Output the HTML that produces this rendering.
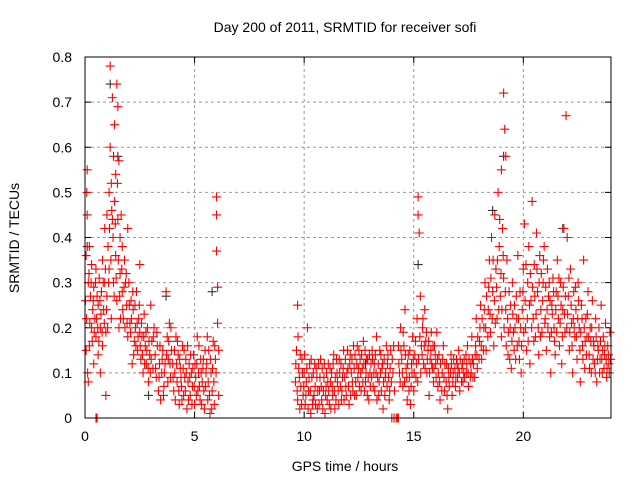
<!DOCTYPE html>
<html><head><meta charset="utf-8"><style>
body{margin:0;background:#fff}
svg text{font-family:"Liberation Sans","DejaVu Sans",sans-serif;font-size:14px;fill:#000}
</style></head><body>
<svg id="chart" width="640" height="480" xmlns="http://www.w3.org/2000/svg">
<text x="345" y="32" text-anchor="middle">Day 200 of 2011, SRMTID for receiver sofi</text>
<text x="345" y="471" text-anchor="middle">GPS time / hours</text>
<text transform="translate(19,238) rotate(-90)" text-anchor="middle">SRMTID / TECUs</text>
<g id="grid"></g>
<g id="ticks"></g>
<g id="marks"></g>
<rect x="85" y="57" width="526" height="361" fill="none" stroke="#000" stroke-width="1"/>
</svg>
<script>
const xTicks=[0,5,10,15,20];
const yTicks=[0,0.1,0.2,0.3,0.4,0.5,0.6,0.7,0.8];
const yTickLabels=["0","0.1","0.2","0.3","0.4","0.5","0.6","0.7","0.8"];
const seg0=[[0.05,0.15],[0.05,0.36],[0.08,0.5],[0.1,0.55],[0.1,0.45],[0.12,0.1],[0.15,0.08],[0.15,0.3],[0.2,0.38],[0.2,0.16],[0.25,0.27],[0.3,0.34],[0.3,0.2],[0.35,0.24],[0.4,0.12],[0.4,0.29],[0.45,0.22],[0.5,0.33],[0.5,0.18],[0.55,0.27],[0.6,0.14],[0.6,0.25],[0.65,0.31],[0.7,0.2],[0.7,0.1],[0.75,0.28],[0.8,0.35],[0.8,0.16],[0.85,0.24],[0.9,0.42],[0.9,0.3],[0.95,0.19],[0.95,0.05],[0.5,0],[0.55,0]];
const seg1=[[1.0,0.45],[1.0,0.27],[1.05,0.38],[1.1,0.5],[1.1,0.33],[1.15,0.78],[1.15,0.6],[1.2,0.52],[1.2,0.22],[1.25,0.71],[1.25,0.44],[1.3,0.58],[1.3,0.3],[1.35,0.65],[1.35,0.48],[1.4,0.54],[1.4,0.36],[1.45,0.74],[1.45,0.26],[1.5,0.69],[1.5,0.44],[1.55,0.57],[1.55,0.2],[1.6,0.4],[1.6,0.32],[1.65,0.45],[1.7,0.28],[1.7,0.38],[1.75,0.22],[1.8,0.35],[1.85,0.3],[1.9,0.25],[1.95,0.42],[1.95,0.18]];
const seg2=[[2.0,0.3],[2.05,0.21],[2.1,0.26],[2.15,0.12],[2.2,0.24],[2.25,0.17],[2.3,0.2],[2.35,0.28],[2.4,0.15],[2.45,0.22],[2.5,0.34],[2.5,0.19],[2.55,0.13],[2.6,0.18],[2.65,0.1],[2.7,0.23],[2.75,0.16],[2.8,0.12],[2.85,0.2],[2.9,0.08],[2.95,0.14]];
const seg3=[[3.0,0.25],[3.05,0.17],[3.1,0.11],[3.15,0.2],[3.2,0.14],[3.25,0.09],[3.3,0.16],[3.35,0.06],[3.4,0.12],[3.45,0.04],[3.5,0.1],[3.55,0.15],[3.6,0.07],[3.65,0.12],[3.7,0.28],[3.75,0.18],[3.8,0.13],[3.85,0.21],[3.9,0.09],[3.95,0.15]];
const seg4=[[4.0,0.12],[4.05,0.06],[4.1,0.1],[4.15,0.18],[4.2,0.08],[4.25,0.14],[4.3,0.03],[4.35,0.11],[4.4,0.07],[4.45,0.16],[4.5,0.05],[4.55,0.09],[4.6,0.13],[4.65,0.02],[4.7,0.08],[4.75,0.12],[4.8,0.05],[4.85,0.1],[4.9,0.07],[4.95,0.14],[5.0,0.03],[5.05,0.09],[5.1,0.12],[5.15,0.06],[5.2,0.16],[5.25,0.04],[5.3,0.1],[5.35,0.08],[5.4,0.13],[5.45,0.02]];
const seg5=[[5.5,0.07],[5.55,0.12],[5.6,0.04],[5.65,0.15],[5.7,0.01],[5.75,0.1],[5.8,0.06],[5.85,0.17],[5.9,0.03],[5.95,0.13],[6.0,0.49],[6.0,0.45],[6.0,0.37],[6.05,0.29],[6.05,0.21],[6.1,0.15],[6.1,0.05]];
const seg6=[[9.6,0.08],[9.65,0.15],[9.7,0.25],[9.7,0.04],[9.75,0.11],[9.8,0.02],[9.85,0.07],[9.9,0.13],[9.95,0.05],[10.0,0.1],[10.05,0.03],[10.1,0.08],[10.15,0.2],[10.2,0.06],[10.25,0.12],[10.3,0.01],[10.35,0.09],[10.4,0.04],[10.5,0.07],[10.55,0.11],[10.6,0.02],[10.7,0.06],[10.75,0.13],[10.8,0.04],[10.9,0.09],[10.95,0.01],[11.0,0.07],[11.1,0.12],[11.15,0.03],[11.2,0.08],[11.3,0.05],[11.35,0.14],[11.4,0.02],[11.5,0.1],[11.55,0.06],[11.6,0.13],[11.7,0.04],[11.75,0.09],[11.8,0.15],[11.9,0.07],[12.0,0.11],[12.05,0.03],[12.1,0.14],[12.2,0.08],[12.25,0.16],[12.3,0.05],[12.4,0.12],[12.45,0.09],[12.5,0.15],[12.6,0.06],[12.65,0.11],[12.7,0.17],[12.8,0.08],[12.9,0.13],[12.95,0.04],[13.0,0.1],[13.1,0.15],[13.15,0.07],[13.2,0.12],[13.3,0.18],[13.35,0.09],[13.4,0.05],[13.5,0.14],[13.55,0.11],[13.6,0.02],[13.7,0.09],[13.75,0.16],[13.8,0.12],[13.9,0.06],[13.95,0.15],[14.0,0],[14.1,0],[14.2,0],[14.25,0],[14.3,0]];
const seg7=[[14.3,0.16],[14.35,0.1],[14.4,0.2],[14.45,0.13],[14.5,0.07],[14.55,0.16],[14.6,0.24],[14.65,0.11],[14.7,0.04],[14.75,0.14],[14.8,0.09],[14.85,0.03],[14.9,0.12],[14.95,0.18]];
const seg8=[[15.0,0.06],[15.05,0.14],[15.1,0.09],[15.15,0.22],[15.2,0.49],[15.2,0.45],[15.25,0.41],[15.3,0.27],[15.35,0.16],[15.4,0.2],[15.45,0.12],[15.5,0.24],[15.55,0.17],[15.6,0.1],[15.65,0.15],[15.7,0.05],[15.75,0.13],[15.8,0.19],[15.85,0.11],[15.9,0.08],[15.95,0.16]];
const seg9=[[16.0,0.12],[16.05,0.19],[16.1,0.07],[16.15,0.14],[16.2,0.04],[16.3,0.1],[16.35,0.16],[16.4,0.06],[16.5,0.12],[16.55,0.02],[16.6,0.09],[16.7,0.14],[16.75,0.05],[16.8,0.1],[16.9,0.07],[16.95,0.13],[17.0,0.09],[17.05,0.15],[17.1,0.06],[17.2,0.11],[17.25,0.08],[17.3,0.13],[17.4,0.1],[17.45,0.16]];
const seg10=[[17.5,0.07],[17.6,0.12],[17.65,0.18],[17.7,0.09],[17.8,0.14],[17.85,0.22],[17.9,0.11],[18.0,0.17],[18.05,0.25],[18.1,0.13],[18.2,0.2],[18.25,0.3],[18.3,0.15],[18.4,0.24],[18.45,0.35],[18.5,0.19]];
const seg11=[[18.55,0.4],[18.6,0.28],[18.65,0.16],[18.7,0.45],[18.75,0.33],[18.8,0.22],[18.85,0.5],[18.9,0.38],[18.95,0.27],[19.0,0.55],[19.0,0.18],[19.05,0.42],[19.1,0.72],[19.1,0.31],[19.15,0.64],[19.2,0.58],[19.2,0.24],[19.25,0.35],[19.3,0.14],[19.35,0.28],[19.4,0.2],[19.45,0.11]];
const seg12=[[19.5,0.3],[19.55,0.19],[19.6,0.25],[19.65,0.13],[19.7,0.22],[19.75,0.36],[19.8,0.17],[19.85,0.28],[19.9,0.1],[19.95,0.24],[20.0,0.33],[20.05,0.43],[20.1,0.2],[20.15,0.15],[20.2,0.3],[20.25,0.38],[20.3,0.12],[20.35,0.26],[20.4,0.48],[20.45,0.22],[20.5,0.34],[20.55,0.18],[20.6,0.41],[20.65,0.28],[20.7,0.14],[20.75,0.36],[20.8,0.24],[20.85,0.19],[20.9,0.3],[20.95,0.38]];
const seg13=[[21.0,0.22],[21.05,0.15],[21.1,0.33],[21.15,0.27],[21.2,0.18],[21.25,0.1],[21.3,0.25],[21.35,0.31],[21.4,0.2],[21.45,0.14],[21.5,0.28],[21.55,0.35],[21.6,0.22],[21.65,0.16],[21.7,0.3],[21.75,0.12],[21.8,0.24],[21.85,0.42],[21.9,0.19],[21.95,0.67],[22.0,0.4],[22.05,0.27],[22.1,0.15],[22.15,0.33],[22.2,0.21],[22.25,0.1],[22.3,0.28],[22.35,0.18],[22.4,0.24],[22.45,0.13],[22.5,0.3],[22.55,0.2],[22.6,0.08],[22.65,0.25],[22.7,0.16],[22.75,0.35],[22.8,0.11],[22.85,0.22],[22.9,0.18],[22.95,0.28],[23.0,0.14],[23.05,0.2],[23.1,0.1],[23.15,0.26],[23.2,0.17],[23.25,0.12],[23.3,0.22],[23.35,0.08],[23.4,0.16],[23.45,0.2],[23.5,0.13],[23.55,0.25],[23.6,0.1],[23.65,0.18],[23.7,0.14],[23.75,0.21],[23.8,0.09],[23.85,0.16],[23.9,0.12],[23.95,0.19]];
const extraEarly=[[0.02,0.26],[0.07,0.22],[0.18,0.32],[0.22,0.21],[0.28,0.3],[0.33,0.17],[0.38,0.26],[0.42,0.19],[0.48,0.3],[0.53,0.22],[0.58,0.2],[0.63,0.17],[0.68,0.26],[0.73,0.23],[0.78,0.19],[0.83,0.3],[0.88,0.21],[0.93,0.33],[0.98,0.24],[1.03,0.2],[1.08,0.3],[1.12,0.42],[1.18,0.35],[1.22,0.46],[1.28,0.4],[1.33,0.27],[1.38,0.43],[1.42,0.31],[1.48,0.52],[1.52,0.35],[1.58,0.27],[1.62,0.22],[1.68,0.33],[1.72,0.24],[1.78,0.29],[1.82,0.2],[1.88,0.32],[1.92,0.21],[2.02,0.25],[2.08,0.19],[2.12,0.22],[2.18,0.28],[2.22,0.14],[2.28,0.25],[2.32,0.16],[2.38,0.21],[2.42,0.18],[2.48,0.25],[2.52,0.16],[2.58,0.21],[2.62,0.14],[2.68,0.18],[2.72,0.12],[2.78,0.19],[2.82,0.15],[2.88,0.11],[2.92,0.17],[2.98,0.1]];
const extraMid=[[3.02,0.13],[3.12,0.18],[3.22,0.11],[3.28,0.19],[3.38,0.09],[3.42,0.16],[3.52,0.13],[3.58,0.05],[3.62,0.1],[3.72,0.14],[3.78,0.08],[3.82,0.17],[3.88,0.12],[3.92,0.2],[4.02,0.09],[4.08,0.15],[4.12,0.04],[4.18,0.12],[4.22,0.17],[4.28,0.06],[4.32,0.13],[4.38,0.09],[4.42,0.04],[4.48,0.11],[4.52,0.15],[4.58,0.06],[4.62,0.1],[4.68,0.16],[4.72,0.04],[4.78,0.09],[4.82,0.14],[4.88,0.03],[4.92,0.11],[4.98,0.07],[5.02,0.12],[5.08,0.05],[5.12,0.18],[5.18,0.1],[5.22,0.07],[5.28,0.13],[5.32,0.03],[5.38,0.11],[5.42,0.06],[5.48,0.15],[5.52,0.1],[5.58,0.18],[5.62,0.08],[5.68,0.05],[5.72,0.13],[5.78,0.02],[5.82,0.11],[5.88,0.08],[5.92,0.16],[5.98,0.1]];
const extraQuiet=[[9.62,0.12],[9.68,0.06],[9.72,0.18],[9.78,0.09],[9.82,0.14],[9.88,0.03],[9.92,0.1],[9.98,0.07],[10.02,0.14],[10.08,0.05],[10.12,0.11],[10.18,0.02],[10.22,0.09],[10.28,0.06],[10.32,0.13],[10.38,0.03],[10.42,0.1],[10.45,0.05],[10.48,0.12],[10.52,0.03],[10.58,0.09],[10.62,0.06],[10.65,0.12],[10.68,0.03],[10.72,0.09],[10.78,0.07],[10.82,0.11],[10.85,0.02],[10.88,0.06],[10.92,0.12],[10.98,0.05],[11.02,0.1],[11.05,0.04],[11.08,0.08],[11.12,0.06],[11.18,0.11],[11.22,0.02],[11.25,0.1],[11.28,0.07],[11.32,0.12],[11.38,0.06],[11.42,0.09],[11.45,0.04],[11.48,0.13],[11.52,0.08],[11.58,0.03],[11.62,0.1],[11.65,0.07],[11.68,0.12],[11.72,0.06],[11.78,0.11],[11.82,0.04],[11.85,0.09],[11.88,0.13],[11.92,0.05],[11.95,0.1],[11.98,0.15],[12.02,0.07],[12.08,0.12],[12.12,0.05],[12.15,0.1],[12.18,0.13],[12.22,0.06],[12.28,0.11],[12.32,0.14],[12.35,0.08],[12.38,0.05],[12.42,0.16],[12.48,0.11],[12.52,0.07],[12.55,0.13],[12.58,0.1],[12.62,0.14],[12.68,0.08],[12.72,0.12],[12.75,0.06],[12.78,0.15],[12.82,0.1],[12.85,0.13],[12.88,0.05],[12.92,0.09],[12.98,0.14],[13.02,0.07],[13.05,0.12],[13.08,0.09],[13.12,0.13],[13.18,0.1],[13.22,0.06],[13.25,0.14],[13.28,0.1],[13.32,0.04],[13.38,0.12],[13.42,0.08],[13.45,0.15],[13.48,0.1],[13.52,0.06],[13.58,0.12],[13.62,0.08],[13.65,0.13],[13.68,0.05],[13.72,0.1],[13.78,0.07],[13.82,0.14],[13.85,0.09],[13.88,0.04],[13.92,0.11],[13.98,0.08],[14.02,0.13],[14.05,0.1],[14.08,0.16],[14.12,0.06]];
const extraLate=[[14.32,0.12],[14.38,0.08],[14.42,0.15],[14.48,0.1],[14.52,0.19],[14.58,0.08],[14.62,0.14],[14.68,0.09],[14.72,0.12],[14.78,0.06],[14.82,0.15],[14.88,0.07],[14.92,0.1],[14.98,0.13],[15.02,0.1],[15.08,0.17],[15.12,0.12],[15.18,0.08],[15.22,0.13],[15.28,0.18],[15.32,0.1],[15.38,0.14],[15.42,0.22],[15.48,0.16],[15.52,0.11],[15.58,0.19],[15.62,0.13],[15.68,0.17],[15.72,0.1],[15.78,0.15],[15.82,0.12],[15.88,0.16],[15.92,0.11],[15.98,0.14],[16.02,0.09],[16.08,0.13],[16.12,0.1],[16.18,0.08],[16.22,0.12],[16.28,0.06],[16.32,0.13],[16.38,0.09],[16.42,0.12],[16.48,0.08],[16.52,0.05],[16.58,0.11],[16.62,0.07],[16.68,0.1],[16.72,0.12],[16.78,0.08],[16.82,0.13],[16.88,0.11],[16.92,0.09],[16.98,0.12],[17.02,0.11],[17.08,0.1],[17.12,0.13],[17.18,0.08],[17.22,0.12],[17.28,0.1],[17.32,0.09],[17.38,0.14],[17.42,0.12],[17.48,0.1],[17.52,0.13],[17.58,0.09],[17.62,0.1],[17.68,0.13],[17.72,0.12],[17.78,0.09],[17.82,0.16],[17.88,0.14],[17.92,0.18],[17.98,0.13],[18.02,0.2],[18.08,0.16],[18.12,0.22],[18.18,0.15],[18.22,0.24],[18.28,0.2],[18.32,0.27],[18.38,0.18],[18.42,0.29],[18.48,0.23],[18.52,0.31],[18.58,0.22],[18.62,0.35],[18.68,0.26],[18.72,0.21],[18.78,0.29],[18.82,0.35],[18.88,0.24],[18.92,0.44],[18.98,0.32],[19.02,0.24],[19.08,0.36],[19.12,0.2],[19.18,0.28],[19.22,0.16],[19.28,0.22],[19.32,0.19],[19.38,0.13],[19.42,0.25],[19.48,0.17],[19.52,0.23],[19.58,0.15],[19.62,0.2],[19.68,0.27],[19.72,0.16],[19.78,0.22],[19.82,0.13],[19.88,0.2],[19.92,0.16],[19.98,0.28],[20.02,0.19],[20.08,0.26],[20.12,0.34],[20.18,0.22],[20.22,0.17],[20.28,0.25],[20.32,0.32],[20.38,0.2],[20.42,0.29],[20.48,0.17],[20.52,0.27],[20.58,0.23],[20.62,0.33],[20.68,0.2],[20.72,0.3],[20.78,0.18],[20.82,0.32],[20.88,0.26],[20.92,0.35],[20.98,0.21],[21.02,0.29],[21.08,0.24],[21.12,0.2],[21.18,0.3],[21.22,0.26],[21.28,0.19],[21.32,0.23],[21.38,0.28],[21.42,0.17],[21.48,0.24],[21.52,0.19],[21.58,0.27],[21.62,0.31],[21.68,0.21],[21.72,0.25],[21.78,0.18],[21.82,0.29],[21.88,0.23],[21.92,0.27],[21.98,0.2],[22.02,0.23],[22.08,0.31],[22.12,0.19],[22.18,0.25],[22.22,0.16],[22.28,0.22],[22.32,0.2],[22.38,0.29],[22.42,0.18],[22.48,0.22],[22.52,0.26],[22.58,0.15],[22.62,0.19],[22.68,0.22],[22.72,0.13],[22.78,0.2],[22.82,0.17],[22.88,0.14],[22.92,0.23],[22.98,0.18],[23.02,0.11],[23.08,0.17],[23.12,0.2],[23.18,0.13],[23.22,0.16],[23.28,0.1],[23.32,0.18],[23.38,0.13],[23.42,0.15],[23.48,0.1],[23.52,0.17],[23.58,0.13],[23.62,0.15],[23.68,0.11],[23.72,0.16],[23.78,0.13],[23.82,0.11],[23.88,0.14],[23.92,0.1],[23.98,0.13]];
const darkPoints=[[1.15,0.74],[0.1,0.38],[1.5,0.58],[19.1,0.58],[15.2,0.34],[2.9,0.05],[18.6,0.46],[12.8,0.12],[21.8,0.42],[3.7,0.27],[5.8,0.28]];

const X0=85,X1=611,Y0=418,Y1=57,XMAX=24,YMAX=0.8;
function xs(t){return X0+(X1-X0)*t/XMAX;}
function ys(v){return Y0-(Y0-Y1)*v/YMAX;}
const NS="http://www.w3.org/2000/svg";
const grid=document.getElementById('grid'),ticks=document.getElementById('ticks'),marks=document.getElementById('marks');
function mk(tag,attrs,parent){const e=document.createElementNS(NS,tag);for(const k in attrs)e.setAttribute(k,attrs[k]);parent.appendChild(e);return e;}
xTicks.forEach(t=>{
  const x=xs(t);
  if(t>0){const g=mk('line',{x1:x,x2:x,y1:Y1,y2:Y0,stroke:'#999','stroke-dasharray':'3,3'},grid);
  
  }
  mk('line',{x1:x,x2:x,y1:Y0,y2:Y0-6,stroke:'#000'},ticks);
  mk('line',{x1:x,x2:x,y1:Y1,y2:Y1+6,stroke:'#000'},ticks);
  const l=mk('text',{x:x,y:Y0+23,'text-anchor':'middle'},ticks);l.textContent=String(t);
  
  
});
yTicks.forEach((v,i)=>{
  const y=ys(v);
  if(v>0&&v<YMAX){const g=mk('line',{x1:X0,x2:X1,y1:y,y2:y,stroke:'#999','stroke-dasharray':'3,3'},grid);
  
  }
  mk('line',{x1:X0,x2:X0+6,y1:y,y2:y,stroke:'#000'},ticks);
  mk('line',{x1:X1,x2:X1-6,y1:y,y2:y,stroke:'#000'},ticks);
  const l=mk('text',{x:X0-13,y:y+5,'text-anchor':'end'},ticks);l.textContent=yTickLabels[i];
  
  
});
function plus(p,color,name){
  const x=xs(p[0]),y=ys(p[1]);
  const e=mk('path',{d:`M${x-4.5},${y}h9M${x},${y-4.5}v9`,stroke:color,'stroke-width':1.1,fill:'none'},marks);
  
  
}
darkPoints.forEach(p=>plus(p,'#333','dark-point'));
[seg0,seg1,seg2,seg3,seg4,seg5,seg6,seg7,seg8,seg9,seg10,seg11,seg12,seg13,extraEarly,extraMid,extraQuiet,extraLate].forEach(s=>s.forEach(p=>plus(p,'#f00','srmtid-point')));
</script>
</body></html>
